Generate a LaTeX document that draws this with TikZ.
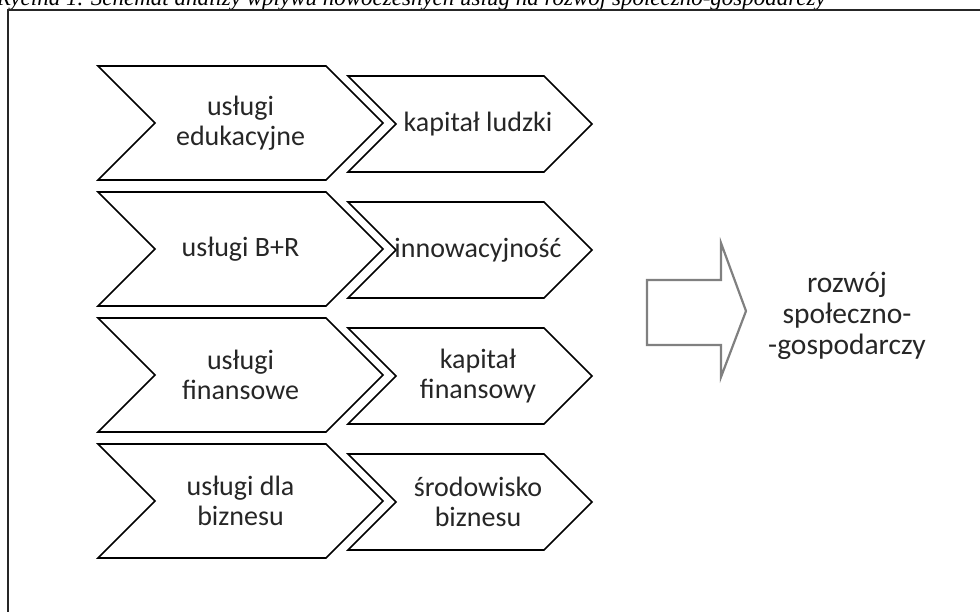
\documentclass[tikz,border=0pt]{standalone}
\usepackage{fontspec}
\setmainfont{Carlito}
\newfontfamily\capfont{Liberation Serif}
\usetikzlibrary{shapes.symbols}
\tikzset{
  lchev/.style={draw, line width=1.6pt, shape=signal, signal from=west, signal to=east,
    signal pointer angle=90, minimum width=285pt, minimum height=114pt, inner sep=0pt,
    align=center, text=black!85, font=\fontsize{28}{30.5}\selectfont},
  rchev/.style={lchev, minimum width=244pt, minimum height=96pt},
  lbl/.style={align=center, text=black!85, font=\fontsize{28}{30.5}\selectfont},
  bigarr/.style={draw=black!50, line width=2.2pt},
}
\begin{document}
\begin{tikzpicture}[x=1pt, y=-1pt]
\useasboundingbox (0,0) rectangle (980,611);
\node[anchor=base east, inner sep=0pt] (cap) at (826,5){\capfont\itshape\fontsize{23}{23}\selectfont Rycina 1. Schemat analizy wpływu nowoczesnych usług na rozwój społeczno-gospodarczy};
\draw[black!85, line width=1.6pt] (8,10) rectangle (1000,640);
\foreach \i/\ltxt/\rtxt in {0/{usługi\\edukacyjne}/{kapitał ludzki}, 1/{usługi B+R}/{innowacyjność},
    2/{usługi\\finansowe}/{kapitał\\finansowy}, 3/{usługi dla\\biznesu}/{środowisko\\biznesu}}{
  \node[lchev] (l\i) at (240.5,123+126*\i){\ltxt};
  \node[rchev] (r\i) at (470,124+126*\i){};
  \node[lbl] (rt\i) at ([xshift=8pt]r\i.center){\rtxt};
}
\coordinate (arr) at (647,312);
\draw[bigarr] (647,280)--(721,280)--(721,243)--(746,311)--(721,377)--(721,345)--(647,345)--cycle;
\node[lbl, font=\fontsize{29.5}{31}\selectfont] (dev) at (847,316){rozwój\\społeczno-\\-gospodarczy};
\end{tikzpicture}
\end{document}
